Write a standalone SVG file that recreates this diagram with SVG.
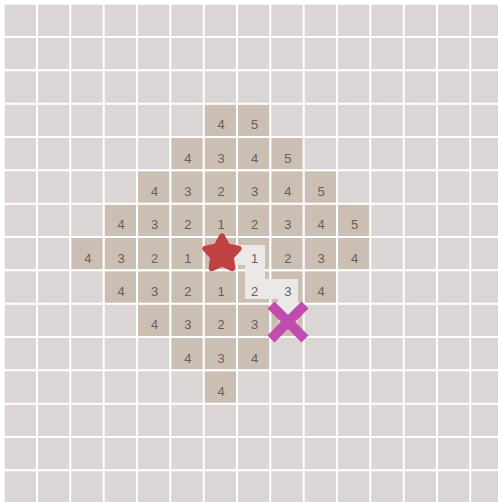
<svg xmlns="http://www.w3.org/2000/svg" width="498" height="502" viewBox="0 0 498 502">
<style>
.bg{fill:#dcd5d6}
.cell rect{fill:#cbbfb3}
.cell text{font-family:"Liberation Sans",Arial,sans-serif;font-size:13px;fill:#6b5c5d;text-anchor:middle}
.grid line{stroke:#ffffff;stroke-width:2}
.path{fill:none;stroke:#ebe9e8;stroke-width:20;stroke-linejoin:miter;stroke-linecap:butt}
</style>
<rect width="498" height="502" fill="#ffffff"/>
<rect class="bg" x="4.7" y="4.7" width="494" height="498"/>
<g id="explored">
<g id="c6-3" class="cell"><rect x="204.7" y="104.7" width="31.4" height="31.4"/><text x="221.2" y="129.4">4</text></g>
<g id="c7-3" class="cell"><rect x="238" y="104.7" width="31.4" height="31.4"/><text x="254.5" y="129.4">5</text></g>
<g id="c5-4" class="cell"><rect x="171.4" y="138" width="31.4" height="31.4"/><text x="187.9" y="162.7">4</text></g>
<g id="c6-4" class="cell"><rect x="204.7" y="138" width="31.4" height="31.4"/><text x="221.2" y="162.7">3</text></g>
<g id="c7-4" class="cell"><rect x="238" y="138" width="31.4" height="31.4"/><text x="254.5" y="162.7">4</text></g>
<g id="c8-4" class="cell"><rect x="271.4" y="138" width="31.4" height="31.4"/><text x="287.9" y="162.7">5</text></g>
<g id="c4-5" class="cell"><rect x="138" y="171.4" width="31.4" height="31.4"/><text x="154.5" y="196.1">4</text></g>
<g id="c5-5" class="cell"><rect x="171.4" y="171.4" width="31.4" height="31.4"/><text x="187.9" y="196.1">3</text></g>
<g id="c6-5" class="cell"><rect x="204.7" y="171.4" width="31.4" height="31.4"/><text x="221.2" y="196.1">2</text></g>
<g id="c7-5" class="cell"><rect x="238" y="171.4" width="31.4" height="31.4"/><text x="254.5" y="196.1">3</text></g>
<g id="c8-5" class="cell"><rect x="271.4" y="171.4" width="31.4" height="31.4"/><text x="287.9" y="196.1">4</text></g>
<g id="c9-5" class="cell"><rect x="304.7" y="171.4" width="31.4" height="31.4"/><text x="321.2" y="196.1">5</text></g>
<g id="c3-6" class="cell"><rect x="104.7" y="204.7" width="31.4" height="31.4"/><text x="121.2" y="229.4">4</text></g>
<g id="c4-6" class="cell"><rect x="138" y="204.7" width="31.4" height="31.4"/><text x="154.5" y="229.4">3</text></g>
<g id="c5-6" class="cell"><rect x="171.4" y="204.7" width="31.4" height="31.4"/><text x="187.9" y="229.4">2</text></g>
<g id="c6-6" class="cell"><rect x="204.7" y="204.7" width="31.4" height="31.4"/><text x="221.2" y="229.4">1</text></g>
<g id="c7-6" class="cell"><rect x="238" y="204.7" width="31.4" height="31.4"/><text x="254.5" y="229.4">2</text></g>
<g id="c8-6" class="cell"><rect x="271.4" y="204.7" width="31.4" height="31.4"/><text x="287.9" y="229.4">3</text></g>
<g id="c9-6" class="cell"><rect x="304.7" y="204.7" width="31.4" height="31.4"/><text x="321.2" y="229.4">4</text></g>
<g id="c10-6" class="cell"><rect x="338" y="204.7" width="31.4" height="31.4"/><text x="354.5" y="229.4">5</text></g>
<g id="c2-7" class="cell"><rect x="71.4" y="238" width="31.4" height="31.4"/><text x="87.9" y="262.7">4</text></g>
<g id="c3-7" class="cell"><rect x="104.7" y="238" width="31.4" height="31.4"/><text x="121.2" y="262.7">3</text></g>
<g id="c4-7" class="cell"><rect x="138" y="238" width="31.4" height="31.4"/><text x="154.5" y="262.7">2</text></g>
<g id="c5-7" class="cell"><rect x="171.4" y="238" width="31.4" height="31.4"/><text x="187.9" y="262.7">1</text></g>
<g id="c6-7" class="cell"><rect x="204.7" y="238" width="31.4" height="31.4"/></g>
<g id="c7-7" class="cell"><rect x="238" y="238" width="31.4" height="31.4"/></g>
<g id="c8-7" class="cell"><rect x="271.4" y="238" width="31.4" height="31.4"/><text x="287.9" y="262.7">2</text></g>
<g id="c9-7" class="cell"><rect x="304.7" y="238" width="31.4" height="31.4"/><text x="321.2" y="262.7">3</text></g>
<g id="c10-7" class="cell"><rect x="338" y="238" width="31.4" height="31.4"/><text x="354.5" y="262.7">4</text></g>
<g id="c3-8" class="cell"><rect x="104.7" y="271.4" width="31.4" height="31.4"/><text x="121.2" y="296.1">4</text></g>
<g id="c4-8" class="cell"><rect x="138" y="271.4" width="31.4" height="31.4"/><text x="154.5" y="296.1">3</text></g>
<g id="c5-8" class="cell"><rect x="171.4" y="271.4" width="31.4" height="31.4"/><text x="187.9" y="296.1">2</text></g>
<g id="c6-8" class="cell"><rect x="204.7" y="271.4" width="31.4" height="31.4"/><text x="221.2" y="296.1">1</text></g>
<g id="c7-8" class="cell"><rect x="238" y="271.4" width="31.4" height="31.4"/></g>
<g id="c8-8" class="cell"><rect x="271.4" y="271.4" width="31.4" height="31.4"/></g>
<g id="c9-8" class="cell"><rect x="304.7" y="271.4" width="31.4" height="31.4"/><text x="321.2" y="296.1">4</text></g>
<g id="c4-9" class="cell"><rect x="138" y="304.7" width="31.4" height="31.4"/><text x="154.5" y="329.4">4</text></g>
<g id="c5-9" class="cell"><rect x="171.4" y="304.7" width="31.4" height="31.4"/><text x="187.9" y="329.4">3</text></g>
<g id="c6-9" class="cell"><rect x="204.7" y="304.7" width="31.4" height="31.4"/><text x="221.2" y="329.4">2</text></g>
<g id="c7-9" class="cell"><rect x="238" y="304.7" width="31.4" height="31.4"/><text x="254.5" y="329.4">3</text></g>
<g id="c8-9" class="cell"><rect x="271.4" y="304.7" width="31.4" height="31.4"/></g>
<g id="c5-10" class="cell"><rect x="171.4" y="338" width="31.4" height="31.4"/><text x="187.9" y="362.7">4</text></g>
<g id="c6-10" class="cell"><rect x="204.7" y="338" width="31.4" height="31.4"/><text x="221.2" y="362.7">3</text></g>
<g id="c7-10" class="cell"><rect x="238" y="338" width="31.4" height="31.4"/><text x="254.5" y="362.7">4</text></g>
<g id="c6-11" class="cell"><rect x="204.7" y="371.4" width="31.4" height="31.4"/><text x="221.2" y="396.1">4</text></g>
</g>
<g class="grid" id="grid">
<line x1="37" y1="0" x2="37" y2="502"/><line x1="70.3" y1="0" x2="70.3" y2="502"/><line x1="103.7" y1="0" x2="103.7" y2="502"/><line x1="137" y1="0" x2="137" y2="502"/><line x1="170.3" y1="0" x2="170.3" y2="502"/><line x1="203.7" y1="0" x2="203.7" y2="502"/><line x1="237" y1="0" x2="237" y2="502"/><line x1="270.3" y1="0" x2="270.3" y2="502"/><line x1="303.7" y1="0" x2="303.7" y2="502"/><line x1="337" y1="0" x2="337" y2="502"/><line x1="370.3" y1="0" x2="370.3" y2="502"/><line x1="403.7" y1="0" x2="403.7" y2="502"/><line x1="437" y1="0" x2="437" y2="502"/><line x1="470.3" y1="0" x2="470.3" y2="502"/>
<line x1="0" y1="37" x2="498" y2="37"/><line x1="0" y1="70.3" x2="498" y2="70.3"/><line x1="0" y1="103.7" x2="498" y2="103.7"/><line x1="0" y1="137" x2="498" y2="137"/><line x1="0" y1="170.3" x2="498" y2="170.3"/><line x1="0" y1="203.7" x2="498" y2="203.7"/><line x1="0" y1="237" x2="498" y2="237"/><line x1="0" y1="270.3" x2="498" y2="270.3"/><line x1="0" y1="303.7" x2="498" y2="303.7"/><line x1="0" y1="337" x2="498" y2="337"/><line x1="0" y1="370.3" x2="498" y2="370.3"/><line x1="0" y1="403.7" x2="498" y2="403.7"/><line x1="0" y1="437" x2="498" y2="437"/><line x1="0" y1="470.3" x2="498" y2="470.3"/>
</g>
<g id="connectors">
<polyline class="path" points="221,255 255,255 255,289 288,289 288,322"/>
</g>
<g id="path-labels" class="cell">
<text x="254.5" y="262.7">1</text>
<text x="254.5" y="296.1">2</text>
<text x="287.9" y="296.1">3</text>
</g>
<g id="start">
<polygon points="222,236.5 227.5,246.5 238.6,248.6 230.9,256.9 232.3,268.2 222,263.5 211.7,268.2 213.1,256.9 205.4,248.6 216.5,246.5" fill="#c04242" stroke="#c04242" stroke-width="6" stroke-linejoin="round"/>
</g>
<g id="goal" stroke="#c04cb0" stroke-width="10" stroke-linecap="butt">
<line x1="271" y1="305" x2="305" y2="339"/>
<line x1="305" y1="305" x2="271" y2="339"/>
</g>
</svg>
